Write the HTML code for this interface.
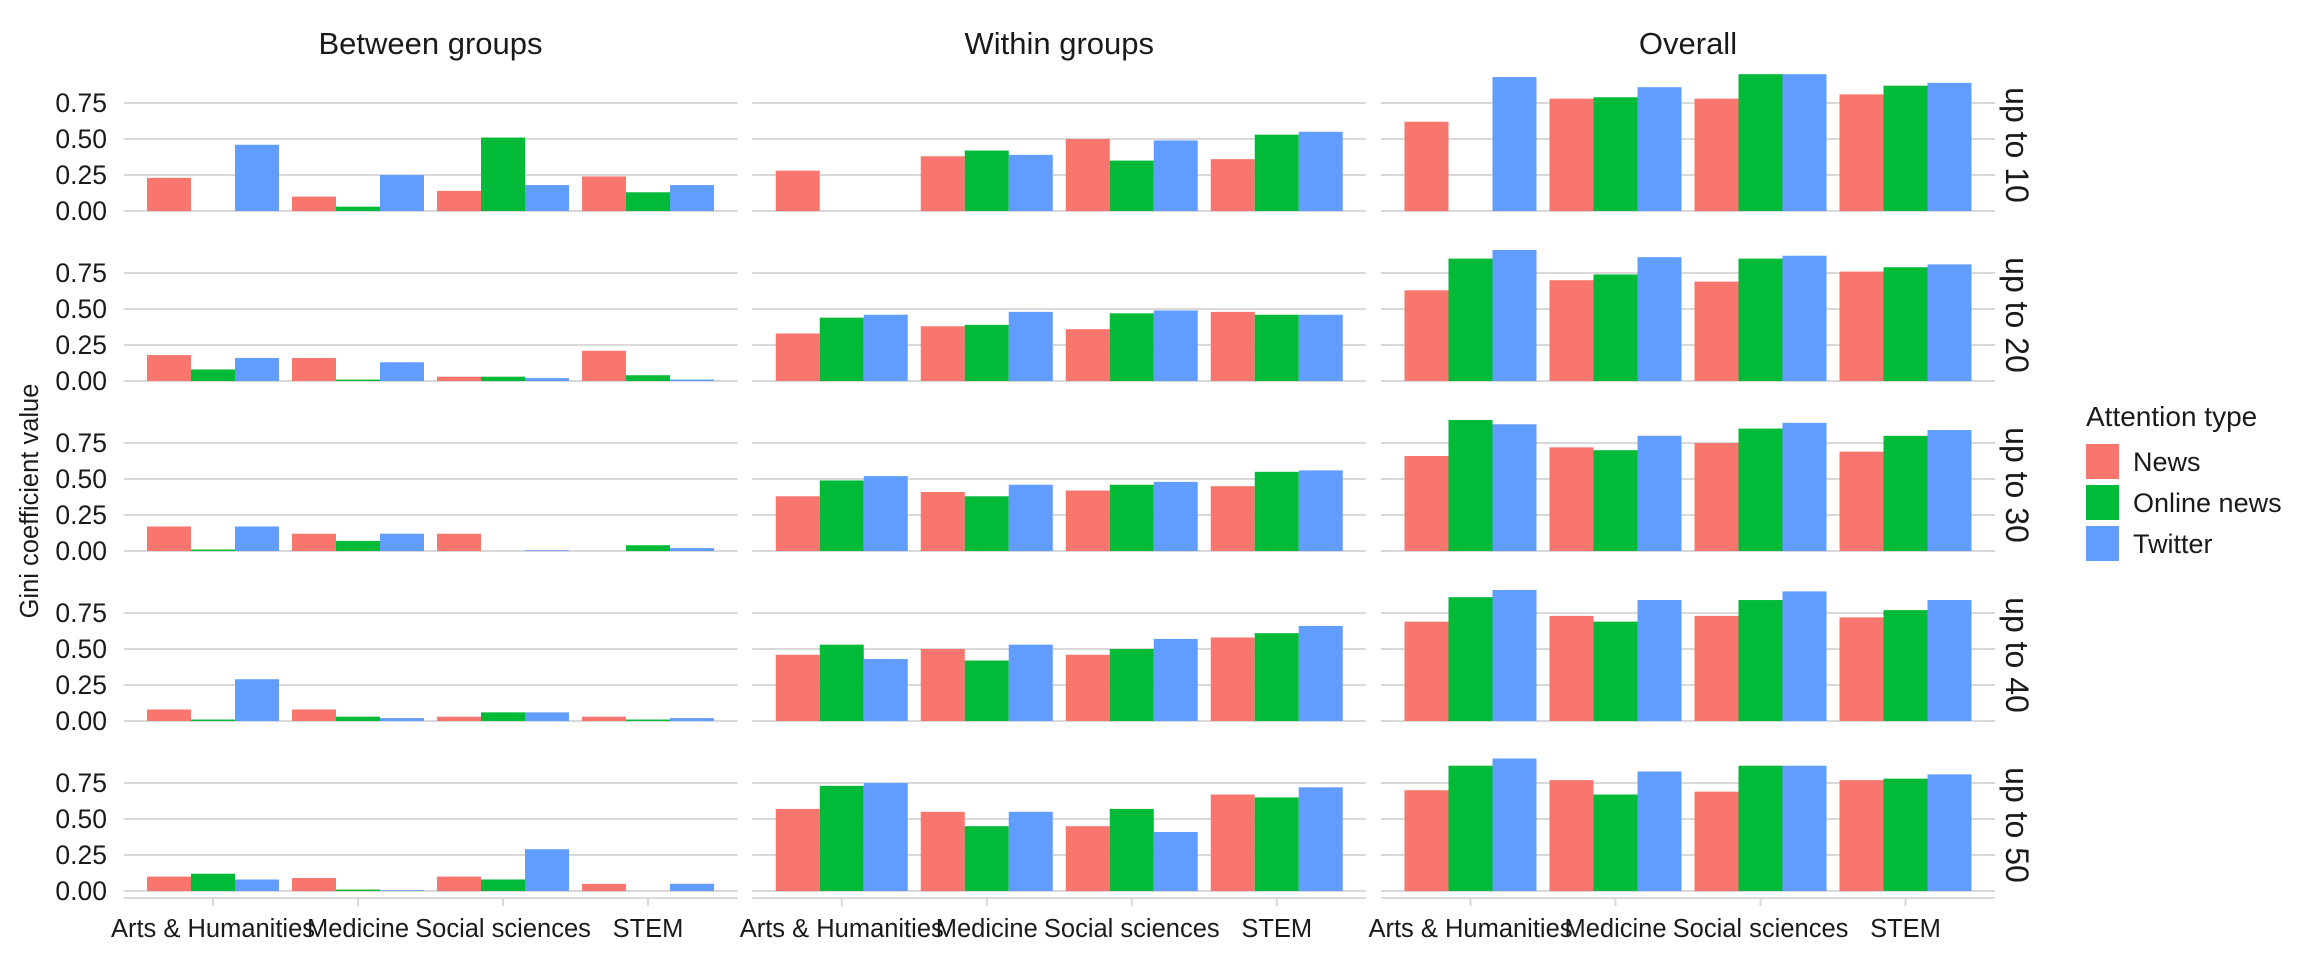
<!DOCTYPE html>
<html><head><meta charset="utf-8">
<style>
html,body{margin:0;padding:0;background:#fff;}
svg{display:block;font-family:"Liberation Sans",sans-serif;}
</style></head>
<body>
<svg id="chart" width="2304" height="960" viewBox="0 0 2304 960" xmlns="http://www.w3.org/2000/svg"></svg>
<script>
const categories = ["Arts & Humanities","Medicine","Social sciences","STEM"];
const columns = ["Between groups","Within groups","Overall"];
const rows = ["up to 10","up to 20","up to 30","up to 40","up to 50"];
const seriesNames = ["News","Online news","Twitter"];
const yTicks = [0,0.25,0.5,0.75];
const yTickLabels = ["0.00","0.25","0.50","0.75"];
// values[row][category]
const betweenNews = [[0.23,0.10,0.14,0.24],[0.18,0.16,0.03,0.21],[0.17,0.12,0.12,0],[0.08,0.08,0.03,0.03],[0.10,0.09,0.10,0.05]];
const betweenOnline = [[0,0.03,0.51,0.13],[0.08,0.01,0.03,0.04],[0.01,0.07,0,0.04],[0.01,0.03,0.06,0.01],[0.12,0.01,0.08,0]];
const betweenTwitter = [[0.46,0.25,0.18,0.18],[0.16,0.13,0.02,0.01],[0.17,0.12,0.005,0.02],[0.29,0.02,0.06,0.02],[0.08,0.005,0.29,0.05]];
const withinNews = [[0.28,0.38,0.50,0.36],[0.33,0.38,0.36,0.48],[0.38,0.41,0.42,0.45],[0.46,0.50,0.46,0.58],[0.57,0.55,0.45,0.67]];
const withinOnline = [[0,0.42,0.35,0.53],[0.44,0.39,0.47,0.46],[0.49,0.38,0.46,0.55],[0.53,0.42,0.50,0.61],[0.73,0.45,0.57,0.65]];
const withinTwitter = [[0,0.39,0.49,0.55],[0.46,0.48,0.49,0.46],[0.52,0.46,0.48,0.56],[0.43,0.53,0.57,0.66],[0.75,0.55,0.41,0.72]];
const overallNews = [[0.62,0.78,0.78,0.81],[0.63,0.70,0.69,0.76],[0.66,0.72,0.75,0.69],[0.69,0.73,0.73,0.72],[0.70,0.77,0.69,0.77]];
const overallOnline = [[0,0.79,0.95,0.87],[0.85,0.74,0.85,0.79],[0.91,0.70,0.85,0.80],[0.86,0.69,0.84,0.77],[0.87,0.67,0.87,0.78]];
const overallTwitter = [[0.93,0.86,0.95,0.89],[0.91,0.86,0.87,0.81],[0.88,0.80,0.89,0.84],[0.91,0.84,0.90,0.84],[0.92,0.83,0.87,0.81]];
const colors = ["#F8766D","#00BA38","#619CFF"];

const data = [[betweenNews,betweenOnline,betweenTwitter],[withinNews,withinOnline,withinTwitter],[overallNews,overallOnline,overallTwitter]];
const svg = document.getElementById('chart');
const NS = "http://www.w3.org/2000/svg";
function mk(tag, attrs, parent){const e=document.createElementNS(NS,tag);for(const k in attrs)e.setAttribute(k,attrs[k]);(parent||svg).appendChild(e);return e;}

const panelW = 614, unitPx = 144, catStep = 145, barW = 44;
function panelCenter(j){return 430.5 + 628.75*j;}
function panelLeft(j){return panelCenter(j)-panelW/2;}
function zeroY(i){return 211 + 170*i;}
function yScale(i,v){return zeroY(i) - v*unitPx;}
function xCat(j,c){return panelCenter(j) + (c-1.5)*catStep;}

columns.forEach((t,j)=>{
  const el = mk('text',{x:panelCenter(j),y:54,'text-anchor':'middle','font-size':31,fill:'#1a1a1a'});
  el.textContent=t;
  
  
});
rows.forEach((t,i)=>{
  const cy = zeroY(i)-66;
  const el = mk('text',{x:0,y:0,transform:`translate(2006,${cy}) rotate(90)`,'text-anchor':'middle','font-size':32,fill:'#1a1a1a'});
  el.textContent=t;
  
  
});

for(let j=0;j<3;j++){
  for(let i=0;i<5;i++){
    const g = mk('g',{});
    
    
    yTicks.forEach((t,k)=>{
      const y=yScale(i,t);
      const ln = mk('line',{x1:panelLeft(j),x2:panelLeft(j)+panelW,y1:y,y2:y,stroke:'#d9d9d9','stroke-width':2},g);
      
      
      if(j===0){
        const tx = mk('text',{x:107,y:y+9,'text-anchor':'end','font-size':26.5,fill:'#1a1a1a'});
        tx.textContent=yTickLabels[k];
        
        
      }
    });
    for(let s=0;s<3;s++){
      for(let c=0;c<4;c++){
        const v = data[j][s][i][c];
        const x = xCat(j,c) + (s-1)*barW - barW/2;
        const y = yScale(i,v);
        const r = mk('rect',{x:x,y:y,width:barW,height:zeroY(i)-y,fill:colors[s]},g);
        
        
      }
    }
  }
  const ay = 898;
  const ax = mk('line',{x1:panelLeft(j),x2:panelLeft(j)+panelW,y1:ay,y2:ay,stroke:'#d9d9d9','stroke-width':2});
  
  
  categories.forEach((c,k)=>{
    const tk = mk('line',{x1:xCat(j,k),x2:xCat(j,k),y1:ay,y2:ay+8,stroke:'#d9d9d9','stroke-width':2});
    
    
    const tl = mk('text',{x:xCat(j,k),y:937,'text-anchor':'middle','font-size':25.5,fill:'#1a1a1a'});
    tl.textContent=c;
    
    
  });
}

const yt = mk('text',{x:0,y:0,transform:'translate(38,501) rotate(-90)','text-anchor':'middle','font-size':25.5,fill:'#1a1a1a'});
yt.textContent='Gini coefficient value';



const lg = mk('g',{});


const lt = mk('text',{x:2086,y:426,'font-size':28,fill:'#1a1a1a'},lg);
lt.textContent='Attention type';


seriesNames.forEach((n,s)=>{
  const y0 = 444 + s*41;
  const r = mk('rect',{x:2086,y:y0,width:33,height:35,fill:colors[s]},lg);
  
  
  const t = mk('text',{x:2133,y:y0+27,'font-size':27,fill:'#1a1a1a'},lg);
  t.textContent=n;
  
  
});
</script>
</body></html>
